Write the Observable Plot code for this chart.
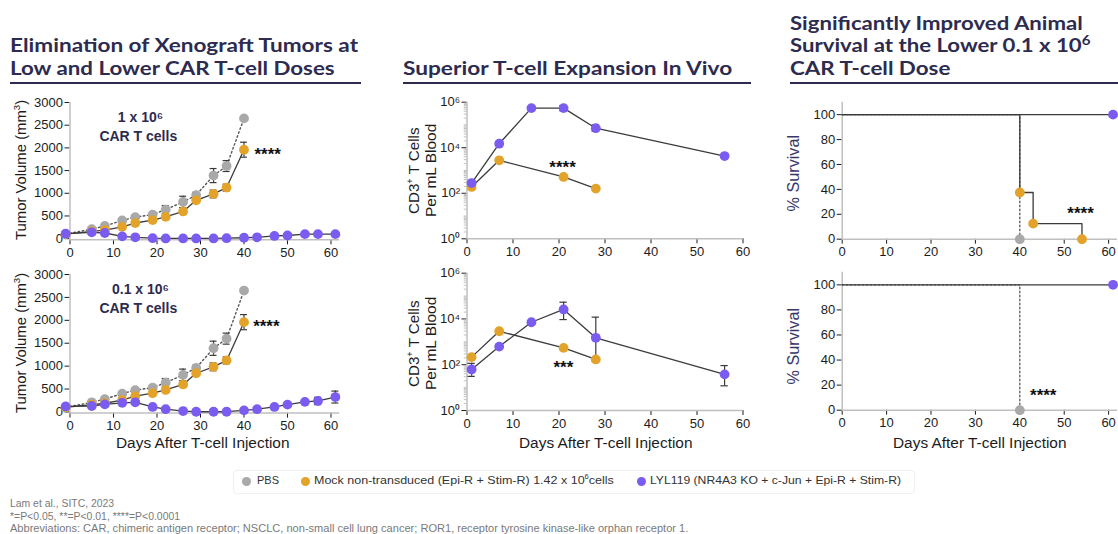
<!DOCTYPE html>
<html><head><meta charset="utf-8">
<script src="https://cdn.jsdelivr.net/npm/d3@7"></script>
<script src="https://cdn.jsdelivr.net/npm/@observablehq/plot@0.6"></script>
<style>
body{margin:0;background:#fff;}
#root{position:relative;width:1118px;height:534px;overflow:hidden;background:#fff;}
</style></head>
<body><div id="root"></div>
<script>
// ---------- DATA ----------
// Tumor volume (mm3), PBS and Mock (same in both dose panels)
const tumorDays = [-1, 5, 8, 12, 15, 19, 22, 26, 29, 33, 36, 40];
const pbsVolume = [100, 210, 280, 400, 475, 530, 640, 810, 960, 1390, 1600, 2650];
const mockVolume = [100, 160, 190, 260, 345, 410, 480, 600, 845, 985, 1125, 1960];
const pbsErrDays = [22, 26, 29, 33, 36];
const pbsErr = [90, 125, 60, 155, 120];
const mockErrDays = [29, 33, 36, 40];
const mockErr = [40, 85, 75, 165];
// LYL119 tumor volume
const lylDays = [-1, 5, 8, 12, 15, 19, 22, 26, 29, 33, 36, 40, 43, 47, 50, 54, 57, 61];
const lylVolumeHigh = [110, 140, 125, 50, 30, 10, 5, 5, 5, 5, 10, 20, 30, 60, 70, 100, 100, 100];
const lylVolumeLow = [120, 130, 165, 200, 210, 110, 60, 20, 5, 5, 5, 35, 60, 110, 160, 220, 240, 325];
const lylErrLowDays = [57, 61];
const lylErrLow = [80, 130];
const doseLabels = ["1 x 10\u2076", "0.1 x 10\u2076"];
const doseSub = "CAR T cells";

// CD3+ T cells per mL blood
const mockCdDays = [1, 7, 21, 28];
const mockCdHigh = [190, 2800, 520, 160];
const mockCdLow = [215, 2900, 545, 170];
const lylCdDays = [1, 7, 14, 21, 28, 56];
const lylCdHigh = [280, 15000, 550000, 550000, 72000, 4300];
const lylCdHighErrDays = [21, 28];
const lylCdHighLo = [420000, 52000];
const lylCdHighHi = [720000, 100000];
const lylCdLow = [62, 620, 7200, 26000, 1500, 38];
const lylCdLowErrDays = [1, 21, 28, 56];
const lylCdLowLo = [31, 9400, 140, 12];
const lylCdLowHi = [115, 54000, 12000, 92];

// Survival (%)
const mockSurvDays = [0, 40, 43, 54];
const mockSurv = [100, 37.5, 12.5, 0];
const pbsSurvDays = [0, 40];
const pbsSurv = [100, 0];
const lylSurvDays = [0, 61];
const lylSurv = [100, 100];

// significance labels
const sigTumorHigh = {day: 42.4, value: 1950, text: "****"};
const sigTumorLow = {day: 42.1, value: 1950, text: "****"};
const sigCdHigh = {day: 17.9, value: 2040, text: "****"};
const sigCdLow = {day: 18.8, value: 113, text: "***"};
const sigSurvHigh = {day: 50.7, value: 23.8, text: "****"};
const sigSurvLow = {day: 42.3, value: 15.2, text: "****"};

// tick values
const dayTicks = [0, 10, 20, 30, 40, 50, 60];
const volTicks = [0, 500, 1000, 1500, 2000, 2500, 3000];
const cdTicks = [1, 100, 10000, 1000000];
const survTicks = [0, 20, 40, 60, 80, 100];

const seriesNames = ["PBS", "Mock non-transduced (Epi-R + Stim-R) 1.42 x 10<sup>6</sup>cells", "LYL119 (NR4A3 KO + c-Jun + Epi-R + Stim-R)"];

// ---------- STYLE ----------
const COL = {pbs: "#a9a9a9", mock: "#e3a32a", lyl: "#7b5cf0"};
const LINE = "#3b3b3b", AX = "#bfbfbf", NAVY = "#2d2b4f", TXT = "#1c1c1c";
const SANS = '"Liberation Sans", Arial, sans-serif';
const R = 4.9;
const root = document.getElementById("root");
const zip = (xs, ys) => xs.map((x, i) => ({day: x, value: ys[i]}));
const sup = n => String(n).split("").map(c => "\u2070\u00b9\u00b2\u00b3\u2074\u2075\u2076\u2077\u2078\u2079"[+c]).join("");

function place(svg, left, top) {
  svg.style.position = "absolute"; svg.style.left = left + "px"; svg.style.top = top + "px";
  svg.querySelectorAll("g[aria-label='x-axis'] line, g[aria-label='y-axis'] line").forEach(l => {
    l.setAttribute("stroke", AX); l.style.stroke = AX; l.setAttribute("stroke-width", 1.3);
  });
  root.appendChild(svg);
}
function label(html, o) {
  const wrap = document.createElement("div");
  wrap.style.cssText = `position:absolute;left:${o.x}px;top:${o.y}px;width:0;height:0;`;
  const s = document.createElement("span");
  s.innerHTML = html;
  s.style.cssText = `position:absolute;white-space:nowrap;font-family:${o.family || SANS};font-size:${o.size}px;font-weight:${o.weight || 400};color:${o.color || TXT};line-height:1;`;
  wrap.appendChild(s); root.appendChild(wrap);
  const w = s.offsetWidth, h = s.offsetHeight;
  const sx = o.width ? o.width / w : 1;
  const ox = o.anchor === "start" ? 0 : w / 2;
  s.style.left = (-ox) + "px"; s.style.top = (-h / 2) + "px";
  s.style.transformOrigin = `${ox}px ${h / 2}px`;
  s.style.transform = `${o.rotate ? `rotate(${o.rotate}deg) ` : ""}scaleX(${sx})`;
  return s;
}
function box(x, y, w, h, color) {
  const d = document.createElement("div");
  d.style.cssText = `position:absolute;left:${x}px;top:${y}px;width:${w}px;height:${h}px;background:${color};`;
  root.appendChild(d);
}
const plotStyle = {background: "transparent", overflow: "visible", fontFamily: SANS, fontSize: "13px", color: TXT, maxWidth: "none"};
const xScale = (domain) => ({domain, label: null, ticks: dayTicks, tickSize: 5, tickPadding: 3, tickFormat: d => String(d)});

function errMarks(days, lo, hi, capHalf) {
  const d = days.map((x, i) => ({day: x, lo: lo[i], hi: hi[i]}));
  return [
    Plot.ruleX(d, {x: "day", y1: "lo", y2: "hi", stroke: LINE, strokeWidth: 1.2}),
    Plot.ruleY(d, {y: "hi", x1: r => r.day - capHalf, x2: r => r.day + capHalf, stroke: LINE, strokeWidth: 1.2}),
    Plot.ruleY(d, {y: "lo", x1: r => r.day - capHalf, x2: r => r.day + capHalf, stroke: LINE, strokeWidth: 1.2})
  ];
}
function sigMark(s) {
  return Plot.text([s], {x: "day", y: "value", text: "text", textAnchor: "start", fontSize: 17, fontWeight: "bold", fill: "#111", dy: 4});
}

// ---------- TUMOR PANELS ----------
function tumorPanel(top, mt, mb, lylVals, errDays, errVals, doseIdx, sig) {
  const yDom = [-25, 3000];
  const pbs = zip(tumorDays, pbsVolume), mock = zip(tumorDays, mockVolume), lyl = zip(lylDays, lylVals);
  const pbsE = pbsErrDays.map(d => pbsVolume[tumorDays.indexOf(d)]);
  const mockE = mockErrDays.map(d => mockVolume[tumorDays.indexOf(d)]);
  const lylE = errDays.map(d => lylVals[lylDays.indexOf(d)]);
  const svg = Plot.plot({
    width: 350, height: 180, marginLeft: 69.5, marginRight: 10.8, marginTop: mt, marginBottom: mb,
    x: xScale([0, 62]),
    y: {domain: yDom, label: null, ticks: volTicks, tickSize: 5, tickPadding: 2, tickFormat: d => String(d)},
    style: plotStyle,
    marks: [
      Plot.ruleX([0], {y1: yDom[0], y2: yDom[1], stroke: AX, strokeWidth: 1.5}),
      Plot.ruleY([yDom[0]], {x1: 0, x2: 62, stroke: AX, strokeWidth: 1.5}),
      Plot.line(pbs, {x: "day", y: "value", stroke: "#555", strokeWidth: 1.4, strokeDasharray: "1.6,2.6"}),
      Plot.line(mock, {x: "day", y: "value", stroke: LINE, strokeWidth: 1.3}),
      Plot.line(lyl, {x: "day", y: "value", stroke: LINE, strokeWidth: 1.3}),
      ...errMarks(pbsErrDays, pbsE.map((v, i) => v - pbsErr[i]), pbsE.map((v, i) => v + pbsErr[i]), 0.8),
      ...errMarks(mockErrDays, mockE.map((v, i) => v - mockErr[i]), mockE.map((v, i) => v + mockErr[i]), 0.8),
      ...errMarks(errDays, lylE.map((v, i) => v - errVals[i]), lylE.map((v, i) => v + errVals[i]), 0.8),
      Plot.dot(pbs, {x: "day", y: "value", r: R, fill: COL.pbs}),
      Plot.dot(mock, {x: "day", y: "value", r: R, fill: COL.mock}),
      Plot.dot(lyl, {x: "day", y: "value", r: R, fill: COL.lyl}),
      sigMark(sig),
      Plot.text([{day: 16.2, value: 2670, text: doseLabels[doseIdx]}], {x: "day", y: "value", text: "text", fontSize: 14, fontWeight: "bold", fill: NAVY}),
      Plot.text([{day: 15.7, value: 2250, text: doseSub}], {x: "day", y: "value", text: "text", fontSize: 14, fontWeight: "bold", fill: NAVY})
    ]
  });
  place(svg, 0, top);
}
tumorPanel(90, 12, 30.7, lylVolumeHigh, [], [], 0, sigTumorHigh);
tumorPanel(262, 12, 29.4, lylVolumeLow, lylErrLowDays, lylErrLow, 1, sigTumorLow);

// ---------- CD3 PANELS ----------
function cdPanel(top, mt, mb, mockVals, lylVals, errDays, errLo, errHi, sig) {
  const mock = zip(mockCdDays, mockVals), lyl = zip(lylCdDays, lylVals);
  const minor = d3.range(0, 6).flatMap(e => d3.range(2, 10).map(k => k * 10 ** e)).concat([10, 1000, 100000]);
  const svg = Plot.plot({
    width: 380, height: 180, marginLeft: 86.5, marginRight: 17.5, marginTop: mt, marginBottom: mb,
    x: xScale([0, 60]),
    y: {type: "log", domain: [1, 1e6], label: null, ticks: cdTicks, tickSize: 5, tickPadding: 2, tickFormat: d => "10" + sup(Math.round(Math.log10(d)))},
    style: plotStyle,
    marks: [
      Plot.ruleX([0], {y1: 1, y2: 1e6, stroke: AX, strokeWidth: 1.5}),
      Plot.ruleY([1], {x1: 0, x2: 60, stroke: AX, strokeWidth: 1.5}),
      Plot.ruleY(minor, {x1: -0.6, x2: 0, stroke: AX, strokeWidth: 1}),
      Plot.line(mock, {x: "day", y: "value", stroke: LINE, strokeWidth: 1.3}),
      Plot.line(lyl, {x: "day", y: "value", stroke: LINE, strokeWidth: 1.3}),
      ...errMarks(errDays, errLo, errHi, 0.8),
      Plot.dot(mock, {x: "day", y: "value", r: R, fill: COL.mock}),
      Plot.dot(lyl, {x: "day", y: "value", r: R, fill: COL.lyl}),
      sigMark(sig)
    ]
  });
  place(svg, 380, top);
}
cdPanel(90, 11.7, 31.7, mockCdHigh, lylCdHigh, lylCdHighErrDays, lylCdHighLo, lylCdHighHi, sigCdHigh);
cdPanel(262, 10.7, 32, mockCdLow, lylCdLow, lylCdLowErrDays, lylCdLowLo, lylCdLowHi, sigCdLow);

// ---------- SURVIVAL PANELS ----------
function survPanel(top, mt, mb, withMock, sig) {
  const pbs = zip(pbsSurvDays, pbsSurv), lyl = zip(lylSurvDays, lylSurv), mock = zip(mockSurvDays, mockSurv);
  const marks = [
    Plot.ruleX([0], {y1: 0, y2: 110, stroke: AX, strokeWidth: 1.5}),
    Plot.ruleY([0], {x1: 0, x2: 62, stroke: AX, strokeWidth: 1.5}),
    Plot.line(pbs, {x: "day", y: "value", curve: "step-after", stroke: "#555", strokeWidth: 1.3, strokeDasharray: "1.6,2.4"})
  ];
  if (withMock) marks.push(Plot.line(mock, {x: "day", y: "value", curve: "step-after", stroke: LINE, strokeWidth: 1.3}));
  marks.push(
    Plot.line(lyl, {x: "day", y: "value", curve: "step-after", stroke: LINE, strokeWidth: 1.3}),
    Plot.dot(pbs.filter(d => d.day > 0), {x: "day", y: "value", r: R, fill: COL.pbs})
  );
  if (withMock) marks.push(Plot.dot(mock.filter(d => d.day > 0), {x: "day", y: "value", r: R, fill: COL.mock}));
  marks.push(Plot.dot(lyl.filter(d => d.day > 0), {x: "day", y: "value", r: R, fill: COL.lyl}), sigMark(sig));
  const svg = Plot.plot({
    width: 348, height: 180, marginLeft: 71.7, marginRight: 1, marginTop: mt, marginBottom: mb,
    x: xScale([0, 62]),
    y: {domain: [0, 110], label: null, ticks: survTicks, tickSize: 5, tickPadding: 2, tickFormat: d => String(d)},
    style: plotStyle, marks
  });
  place(svg, 770, top);
}
survPanel(90, 11.7, 31.3, true, sigSurvHigh);
survPanel(262, 9.8, 32.3, false, sigSurvLow);

// ---------- AXIS TITLES ----------
for (const cy of [170, 343]) {
  label("Tumor Volume (mm<sup style='font-size:9px;line-height:0'>3</sup>)", {x: 20.5, y: cy, size: 14, width: 140, rotate: -90});
  label("CD3<sup style='font-size:9px;line-height:0'>+</sup> T Cells", {x: 413, y: cy, size: 15, width: 87, rotate: -90});
  label("Per mL Blood", {x: 430, y: cy, size: 15, width: 93, rotate: -90});
  label("% Survival", {x: 793.5, y: cy + 3, size: 16, width: 77, rotate: -90, color: "#3a3768"});
}
for (const cx of [202.5, 605, 979.5]) label("Days After T-cell Injection", {x: cx, y: 443, size: 14.7, width: 173});

// ---------- TITLES ----------
const TF = 'Lato, "Open Sans", sans-serif';
label("Elimination of Xenograft Tumors at", {x: 10, y: 44.5, size: 19, weight: 700, family: TF, color: NAVY, anchor: "start", width: 348});
label("Low and Lower CAR T-cell Doses", {x: 10, y: 67, size: 19, weight: 700, family: TF, color: NAVY, anchor: "start", width: 325});
label("Superior T-cell Expansion In Vivo", {x: 403, y: 67, size: 19, weight: 700, family: TF, color: NAVY, anchor: "start", width: 329});
label("Significantly Improved Animal", {x: 790, y: 22, size: 19, weight: 700, family: TF, color: NAVY, anchor: "start", width: 293});
label("Survival at the Lower 0.1 x 10<sup style='font-size:13px;line-height:0'>6</sup>", {x: 790, y: 44.5, size: 19, weight: 700, family: TF, color: NAVY, anchor: "start", width: 300});
label("CAR T-cell Dose", {x: 790, y: 67, size: 19, weight: 700, family: TF, color: NAVY, anchor: "start", width: 160});
box(10, 81.5, 351, 2, NAVY);
box(403, 81.5, 348, 2, NAVY);
box(790, 81.5, 328, 2, NAVY);

// ---------- LEGEND ----------
const lgBox = document.createElement("div");
lgBox.style.cssText = "position:absolute;left:233px;top:470px;width:680px;height:22px;border:1px solid #f0f0f0;border-radius:4px;";
root.appendChild(lgBox);
const legendDotX = [246.5, 305, 641];
const legendTextX = [257, 314, 650];
const legendTextW = [22, 300, 251];
const legendCols = [COL.pbs, COL.mock, COL.lyl];
seriesNames.forEach((n, i) => {
  const dot = document.createElement("div");
  dot.style.cssText = `position:absolute;left:${legendDotX[i] - 4.5}px;top:${481 - 4.5}px;width:9px;height:9px;border-radius:50%;background:${legendCols[i]};`;
  root.appendChild(dot);
  label(n.replace("<sup>", "<sup style='font-size:7px;line-height:0'>"), {x: legendTextX[i], y: 481, size: 11.5, color: "#333", anchor: "start", width: legendTextW[i]});
});

// ---------- FOOTNOTES ----------
const footnotes = ["Lam et al., SITC, 2023", "*=P&lt;0.05, **=P&lt;0.01, ****=P&lt;0.0001", "Abbreviations: CAR, chimeric antigen receptor; NSCLC, non-small cell lung cancer; ROR1, receptor tyrosine kinase-like orphan receptor 1."];
const footW = [104, 170, 678];
const footY = [503, 516, 528];
footnotes.forEach((t, i) => label(t, {x: 10, y: footY[i], size: 10.5, color: "#7a7a7a", anchor: "start", width: footW[i]}));
</script>
</body></html>
